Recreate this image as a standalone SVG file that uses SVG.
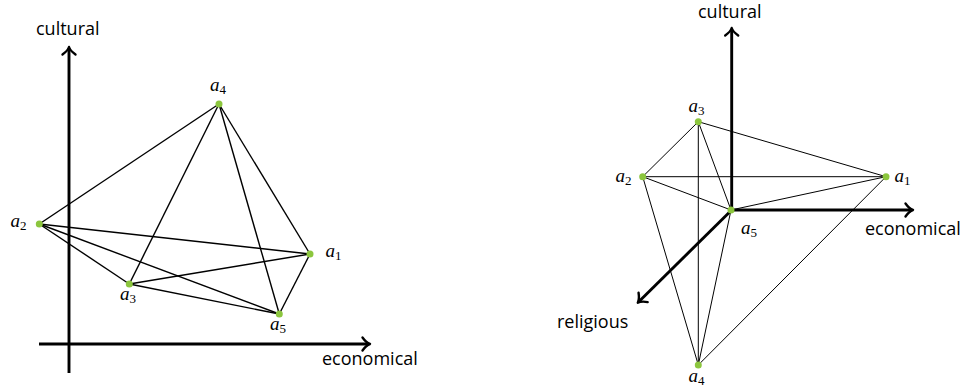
<svg xmlns="http://www.w3.org/2000/svg" width="963" height="390" viewBox="0 0 963 390">
<style>
.ax{stroke:#000;stroke-width:2.9;fill:none}
.e1{stroke:#000;stroke-width:1.4;fill:none}
.e2{stroke:#000;stroke-width:1;fill:none}
.dot{fill:#8cc63e}
.lab{font-family:"Open Sans","DejaVu Sans",sans-serif;font-size:18px;fill:#000}
.m{font-family:"Liberation Serif","DejaVu Serif",serif;font-size:19px;font-style:italic;fill:#000}
.sub{font-style:normal;font-size:13px}
</style>
<defs>
<marker id="arr" markerUnits="userSpaceOnUse" markerWidth="20" markerHeight="20" viewBox="-10 -10 20 20" refX="0" refY="0" orient="auto">
<path d="M-6.5,-6.5 C-4,-3 -1.5,-0.8 1,0 C-1.5,0.8 -4,3 -6.5,6.5" fill="none" stroke="#000" stroke-width="2.4" stroke-linecap="round" stroke-linejoin="round"/>
</marker>
</defs>
<g id="axes-left">
<line class="ax" x1="69" y1="373" x2="69" y2="48" marker-end="url(#arr)"/>
<line class="ax" x1="39" y1="344" x2="369" y2="344" marker-end="url(#arr)"/>
<text class="lab" x="36" y="35">cultural</text>
<text class="lab" x="322" y="365">economical</text>
</g>
<g id="axes-right">
<line class="ax" x1="731.7" y1="210" x2="731.7" y2="29" marker-end="url(#arr)"/>
<line class="ax" x1="731.7" y1="210" x2="912" y2="210" marker-end="url(#arr)"/>
<line class="ax" x1="731.7" y1="210" x2="638.5" y2="302" marker-end="url(#arr)"/>
<text class="lab" x="698" y="18">cultural</text>
<text class="lab" x="865" y="235">economical</text>
<text class="lab" x="557" y="328">religious</text>
</g>
<g id="connectors">
<g class="e1">
<line x1="219" y1="104" x2="39.3" y2="224"/>
<line x1="219" y1="104" x2="129.3" y2="284"/>
<line x1="219" y1="104" x2="279.3" y2="314"/>
<line x1="219" y1="104" x2="310" y2="254"/>
<line x1="39.3" y1="224" x2="310" y2="254"/>
<line x1="39.3" y1="224" x2="129.3" y2="284"/>
<line x1="39.3" y1="224" x2="279.3" y2="314"/>
<line x1="129.3" y1="284" x2="310" y2="254"/>
<line x1="129.3" y1="284" x2="279.3" y2="314"/>
<line x1="310" y1="254" x2="279.3" y2="314"/>
</g>
<g class="e2">
<line x1="698.3" y1="121.7" x2="642.7" y2="176.7"/>
<line x1="698.3" y1="121.7" x2="886" y2="176.7"/>
<line x1="698.3" y1="121.7" x2="731" y2="210"/>
<line x1="698.3" y1="121.7" x2="698.3" y2="365"/>
<line x1="642.7" y1="176.7" x2="886" y2="176.7"/>
<line x1="642.7" y1="176.7" x2="731" y2="210"/>
<line x1="642.7" y1="176.7" x2="698.3" y2="365"/>
<line x1="886" y1="176.7" x2="731" y2="210"/>
<line x1="886" y1="176.7" x2="698.3" y2="365"/>
<line x1="731" y1="210" x2="698.3" y2="365"/>
</g>
</g>
<g id="L-a1"><circle class="dot" cx="310" cy="254" r="3.5"/><text class="m" x="325.5" y="257">a<tspan class="sub" dy="2.5">1</tspan></text></g>
<g id="L-a2"><circle class="dot" cx="39.3" cy="224" r="3.5"/><text class="m" x="10.5" y="227">a<tspan class="sub" dy="2.5">2</tspan></text></g>
<g id="L-a3"><circle class="dot" cx="129.3" cy="284" r="3.5"/><text class="m" x="120" y="300">a<tspan class="sub" dy="2.5">3</tspan></text></g>
<g id="L-a4"><circle class="dot" cx="219" cy="104" r="3.5"/><text class="m" x="210" y="91">a<tspan class="sub" dy="2.5">4</tspan></text></g>
<g id="L-a5"><circle class="dot" cx="279.3" cy="314" r="3.5"/><text class="m" x="270" y="330">a<tspan class="sub" dy="2.5">5</tspan></text></g>
<g id="R-a1"><circle class="dot" cx="886" cy="176.7" r="3.5"/><text class="m" x="894.5" y="182">a<tspan class="sub" dy="2.5">1</tspan></text></g>
<g id="R-a2"><circle class="dot" cx="642.7" cy="176.7" r="3.5"/><text class="m" x="615.5" y="182">a<tspan class="sub" dy="2.5">2</tspan></text></g>
<g id="R-a3"><circle class="dot" cx="698.3" cy="121.7" r="3.5"/><text class="m" x="688.5" y="112">a<tspan class="sub" dy="2.5">3</tspan></text></g>
<g id="R-a4"><circle class="dot" cx="698.3" cy="365" r="3.5"/><text class="m" x="688.5" y="382">a<tspan class="sub" dy="2.5">4</tspan></text></g>
<g id="R-a5"><circle class="dot" cx="731" cy="210" r="3.5"/><text class="m" x="741" y="234">a<tspan class="sub" dy="2.5">5</tspan></text></g>
</svg>
